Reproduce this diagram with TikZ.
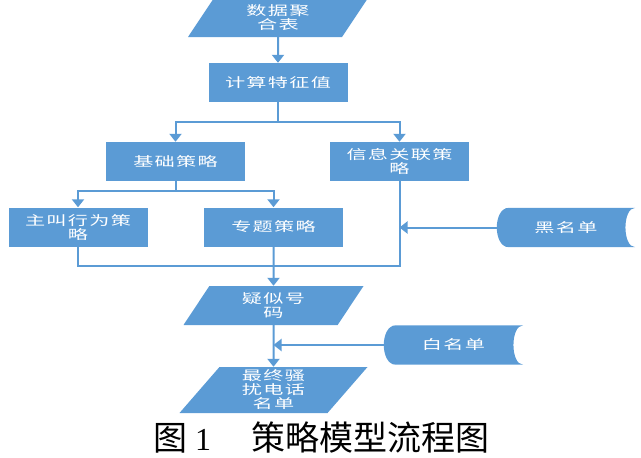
\documentclass[tikz,border=0pt]{standalone}
\usepackage{fontspec}
\usetikzlibrary{arrows.meta,positioning,shapes.geometric,backgrounds}
\newfontfamily\cjk[FakeStretch=1.55,LetterSpace=10]{Noto Sans CJK SC}
\newfontfamily\capfont{Noto Sans CJK SC}
\newfontfamily\capnum{Liberation Serif}
\definecolor{flow}{HTML}{5B9BD5}

\begin{document}
\begin{tikzpicture}[
    x=1pt, y=-1pt,
    proc/.style={fill=flow, text=white, minimum width=139pt, minimum height=39pt,
        inner sep=0pt, align=center, font=\cjk\fontsize{13}{14}\selectfont},
    data/.style={proc, trapezium, trapezium left angle=45, trapezium right angle=135,
        trapezium stretches body, minimum width=180pt},
    store/.style={proc, fill=none, minimum width=138pt},
    link/.style={flow, line width=2pt},
    arr/.style={link, -{Triangle[width=12pt,length=8pt]}},
]
\useasboundingbox (0,0) rectangle (641,458);

% Flow nodes
\node[data] (dat) at (278,17.5) {数据聚\\合表};
\node[proc] (calc) at (278,82.5) {计算特征值};
\node[proc] (basic) at (175.5,161.5) {基础策略};
\node[proc] (info) at (399.5,161.5) {信息关联策\\略};
\node[proc] (caller) at (78,227) {主叫行为策\\略};
\node[proc] (topic) at (273.5,227) {专题策略};
\node[store] (black) at (566,227.5) {黑名单};
\node[data] (sus) at (273.5,305.5) {疑似号\\码};
\node[store, minimum width=139pt] (white) at (453.5,345) {白名单};
\node[data, minimum width=188pt, minimum height=46pt] (final) at (273.5,390) {最终骚\\扰电话\\名单};

% Stored data outlines
\begin{scope}[on background layer]
\foreach \s in {black,white} {
    \fill[flow] ([xshift=12pt]\s.north west) -- (\s.north east)
        .. controls ([xshift=-13pt]\s.north east) and ([xshift=-13pt]\s.south east) .. (\s.south east)
        -- ([xshift=12pt]\s.south west)
        .. controls ([xshift=-4pt]\s.south west) and ([xshift=-4pt]\s.north west) .. ([xshift=12pt]\s.north west) -- cycle;
}
\end{scope}

% Connectors
\coordinate (join) at (273.5,266);
\draw[arr] (dat.south) -- (calc.north);
\draw[arr] (calc.south) -- ++(0,20) -| (basic.north);
\draw[arr] (calc.south) -- ++(0,20) -| (info.north);
\draw[arr] (basic.south) -- ++(0,10) -| (caller.north);
\draw[arr] (basic.south) -- ++(0,10) -| (topic.north);
\draw[link] (caller.south) |- (join);
\draw[link] (info.south) |- (join);
\draw[arr] (topic.south) -- (sus.north);
\draw[arr] (black.west) -- (black.west -| info.south);
\draw[arr] (sus.south) -- (final.north);
\draw[arr] (white.west) -- (white.west -| sus.south);

% Caption
\node[font=\capfont\fontsize{34}{36}\selectfont, inner sep=0pt] (cap) at (321.5,437.5)
    {图\hspace{8pt}{\capnum\fontsize{32}{36}\selectfont 1}\hspace{41pt}策略模型流程图};
\end{tikzpicture}
\end{document}
